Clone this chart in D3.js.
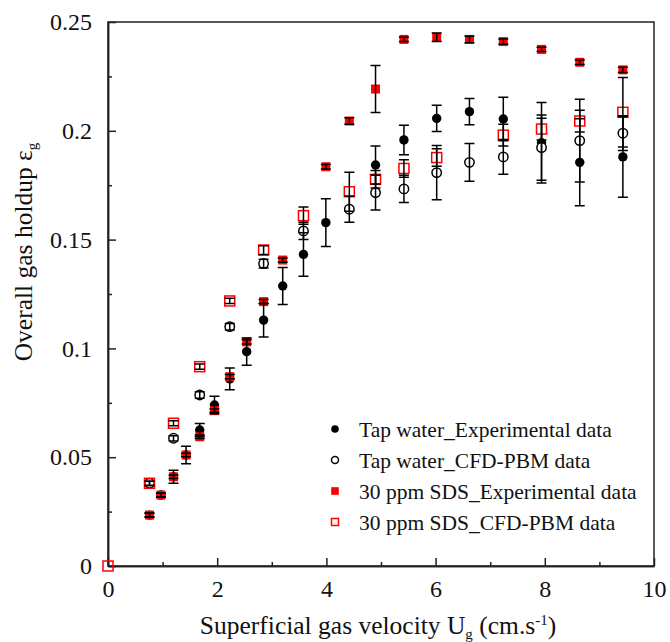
<!DOCTYPE html>
<html>
<head>
<meta charset="utf-8">
<script src="https://cdn.jsdelivr.net/npm/d3@7"></script>
<style>
  html, body { margin: 0; padding: 0; background: #fff; }
  svg, svg text { font-family: "Liberation Serif", "Times New Roman", Tinos, "DejaVu Serif", serif !important; }
</style>
</head>
<body>
<svg id="chart" width="670" height="642"></svg>
<script>
// ---- Data ----
const tapExpX   = [0.76, 0.97, 1.2, 1.43, 1.68, 1.95, 2.23, 2.54, 2.85, 3.2, 3.58, 3.99, 4.9, 5.42, 6.02, 6.62, 7.24, 7.94, 8.64, 9.43];
const tapExpY   = [0.0234, 0.0326, 0.041, 0.051, 0.0625, 0.074, 0.086, 0.0985, 0.113, 0.1287, 0.1432, 0.1578, 0.1843, 0.1958, 0.2057, 0.2088, 0.2054, 0.1945, 0.1855, 0.188];
const tapExpErr = [0.001, 0.001, 0.003, 0.004, 0.003, 0.004, 0.005, 0.0063, 0.0078, 0.0085, 0.010, 0.011, 0.0087, 0.0068, 0.006, 0.006, 0.010, 0.0185, 0.020, 0.0185];

const tapCfdX   = [0.76, 1.2, 1.68, 2.23, 2.85, 3.58, 4.42, 4.9, 5.42, 6.02, 6.62, 7.24, 7.94, 8.64, 9.43];
const tapCfdY   = [0.038, 0.0587, 0.0786, 0.110, 0.139, 0.154, 0.164, 0.1716, 0.1733, 0.1808, 0.1855, 0.188, 0.1923, 0.1955, 0.1989];
const tapCfdErr = [0.001, 0.0012, 0.0015, 0.0015, 0.002, 0.004, 0.006, 0.008, 0.0063, 0.0125, 0.0087, 0.008, 0.015, 0.019, 0.008];

const sdsExpX   = [0.76, 0.97, 1.2, 1.43, 1.68, 1.95, 2.23, 2.54, 2.85, 3.2, 3.99, 4.42, 4.9, 5.42, 6.02, 6.62, 7.24, 7.94, 8.64, 9.43];
const sdsExpY   = [0.0234, 0.0326, 0.041, 0.051, 0.0594, 0.0714, 0.087, 0.103, 0.1215, 0.1406, 0.1835, 0.2045, 0.2192, 0.242, 0.243, 0.242, 0.241, 0.2374, 0.2315, 0.228];
const sdsExpErr = [0.0008, 0.0008, 0.0008, 0.0008, 0.0008, 0.0008, 0.001, 0.001, 0.001, 0.001, 0.001, 0.0015, 0.0108, 0.001, 0.002, 0.0015, 0.0012, 0.001, 0.001, 0.0012];

const sdsCfdX   = [0, 0.76, 1.2, 1.68, 2.23, 2.85, 3.58, 4.42, 4.9, 5.42, 6.02, 7.24, 7.94, 8.64, 9.43];
const sdsCfdY   = [0, 0.038, 0.0656, 0.0916, 0.1218, 0.1452, 0.161, 0.172, 0.1777, 0.1827, 0.1877, 0.198, 0.2008, 0.2045, 0.2085];
const sdsCfdErr = [0, 0.001, 0.0012, 0.0012, 0.0012, 0.002, 0.004, 0.009, 0.004, 0.004, 0.004, 0.005, 0.005, 0.005, 0.016];

const xTicks = [0, 2, 4, 6, 8, 10];
const xMinorTicks = [1, 3, 5, 7, 9];
const yTicks = [0, 0.05, 0.1, 0.15, 0.2, 0.25];
const yMinorTicks = [0.025, 0.075, 0.125, 0.175, 0.225];
const yTickLabels = ["0", "0.05", "0.1", "0.15", "0.2", "0.25"];

const legendLabels = ["Tap water_Experimental data", "Tap water_CFD-PBM data", "30 ppm SDS_Experimental data", "30 ppm SDS_CFD-PBM data"];

// ---- Layout ----
const FONT = '"Liberation Serif", "Times New Roman", Tinos, "DejaVu Serif", serif';
const svg = d3.select("#chart");
const L = 108, R = 654, T = 22, B = 566;
const x = d3.scaleLinear().domain([0, 10]).range([L, R]);
const y = d3.scaleLinear().domain([0, 0.25]).range([B, T]);
const axisColor = "#222";

// frame
svg.append("rect").attr("x", L).attr("y", T).attr("width", R - L).attr("height", B - T)
  .attr("fill", "none").attr("stroke", axisColor).attr("stroke-width", 1.5);

// axes with inward ticks
const xAxis = svg.append("g").attr("transform", `translate(0,${B})`)
  .call(d3.axisBottom(x).tickValues(xTicks).tickSizeInner(-8).tickSizeOuter(0).tickPadding(14).tickFormat(d3.format("d")));
const xAxisMinor = svg.append("g").attr("transform", `translate(0,${B})`)
  .call(d3.axisBottom(x).tickValues(xMinorTicks).tickSizeInner(-4).tickSizeOuter(0).tickFormat(""));
const yAxis = svg.append("g").attr("transform", `translate(${L},0)`)
  .call(d3.axisLeft(y).tickValues(yTicks).tickSizeInner(-8).tickSizeOuter(0).tickPadding(16)
    .tickFormat((d, i) => yTickLabels[i]));
const yAxisMinor = svg.append("g").attr("transform", `translate(${L},0)`)
  .call(d3.axisLeft(y).tickValues(yMinorTicks).tickSizeInner(-4).tickSizeOuter(0).tickFormat(""));

[xAxis, xAxisMinor, yAxis, yAxisMinor].forEach(g => {
  g.attr("font-family", FONT);
  g.select(".domain").attr("stroke", axisColor).attr("stroke-width", 1.5);
  g.selectAll(".tick line").attr("stroke", axisColor).attr("stroke-width", 1.5);
  g.selectAll(".tick text").style("font-family", FONT)
    .attr("font-size", 24).attr("fill", "#111");
});

// axis titles
const xt = svg.append("text").attr("x", (L + R) / 2 - 3).attr("y", 634)
  .attr("text-anchor", "middle").attr("font-size", 25.5).attr("fill", "#111").style("font-family", FONT);
xt.append("tspan").text("Superficial gas velocity U");
xt.append("tspan").text("g").attr("font-size", 15).attr("dy", 5);
xt.append("tspan").text(" (cm.s").attr("dy", -5);
xt.append("tspan").text("-1").attr("font-size", 15).attr("dy", -9);
xt.append("tspan").text(")").attr("dy", 9);

const yt = svg.append("text").attr("transform", `translate(32,252) rotate(-90)`)
  .attr("text-anchor", "middle").attr("font-size", 25.5).attr("fill", "#111").style("font-family", FONT);
yt.append("tspan").text("Overall gas holdup ε");
yt.append("tspan").text("g").attr("font-size", 15).attr("dy", 5);

// ---- markers ----
const circR = 4.7, sqS = 10;
const zip = (xs, ys, es) => xs.map((v, i) => ({ x: v, y: ys[i], e: es[i] }));
const tapExp = zip(tapExpX, tapExpY, tapExpErr);
const tapCfd = zip(tapCfdX, tapCfdY, tapCfdErr);
const sdsExp = zip(sdsExpX, sdsExpY, sdsExpErr);
const sdsCfd = zip(sdsCfdX, sdsCfdY, sdsCfdErr);

const gm = svg.append("g");
gm.selectAll("circle.te").data(tapExp).join("circle").attr("class", "te")
  .attr("cx", d => x(d.x)).attr("cy", d => y(d.y)).attr("r", circR).attr("fill", "#000");
gm.selectAll("circle.tc").data(tapCfd).join("circle").attr("class", "tc")
  .attr("cx", d => x(d.x)).attr("cy", d => y(d.y)).attr("r", circR)
  .attr("fill", "#fff").attr("stroke", "#000").attr("stroke-width", 1.5);
gm.selectAll("rect.se").data(sdsExp).join("rect").attr("class", "se")
  .attr("x", d => x(d.x) - (sqS - 1) / 2).attr("y", d => y(d.y) - (sqS - 1) / 2)
  .attr("width", sqS - 1).attr("height", sqS - 1).attr("fill", "#f00");
gm.selectAll("rect.sc").data(sdsCfd).join("rect").attr("class", "sc")
  .attr("x", d => x(d.x) - sqS / 2).attr("y", d => y(d.y) - sqS / 2)
  .attr("width", sqS).attr("height", sqS).attr("fill", "#fff").attr("fill-opacity", 0)
  .attr("stroke", "#f00").attr("stroke-width", 1.5);

// ---- error bars ----
const allErr = [].concat(tapExp, tapCfd, sdsExp, sdsCfd).filter(d => d.e > 0);
const ge = svg.append("g").attr("stroke", "#000").attr("stroke-width", 1.5).attr("fill", "none");
const capW = 5;
ge.selectAll("path").data(allErr).join("path")
  .attr("d", d => {
    const cx = x(d.x), y1 = y(d.y + d.e), y2 = y(d.y - d.e);
    return `M${cx},${y1}V${y2}M${cx - capW},${y1}H${cx + capW}M${cx - capW},${y2}H${cx + capW}`;
  });

// ---- legend ----
const legY = [429, 460, 491, 522];
const legX = 335;
const lg = svg.append("g");
lg.append("circle").attr("cx", legX).attr("cy", legY[0]).attr("r", 3.8).attr("fill", "#000");
lg.append("circle").attr("cx", legX).attr("cy", legY[1]).attr("r", 3.5).attr("fill", "#fff").attr("stroke", "#000").attr("stroke-width", 1.5);
lg.append("rect").attr("x", legX - 3.8).attr("y", legY[2] - 3.8).attr("width", 7.6).attr("height", 7.6).attr("fill", "#f00");
lg.append("rect").attr("x", legX - 3.5).attr("y", legY[3] - 3.5).attr("width", 7).attr("height", 7).attr("fill", "#fff").attr("stroke", "#f00").attr("stroke-width", 1.5);
lg.selectAll("text").data(legendLabels).join("text")
  .attr("x", 359).attr("y", (d, i) => legY[i]).attr("dy", "0.35em")
  .attr("font-size", 21.5).attr("fill", "#111").style("font-family", FONT).text(d => d);
</script>
</body>
</html>
